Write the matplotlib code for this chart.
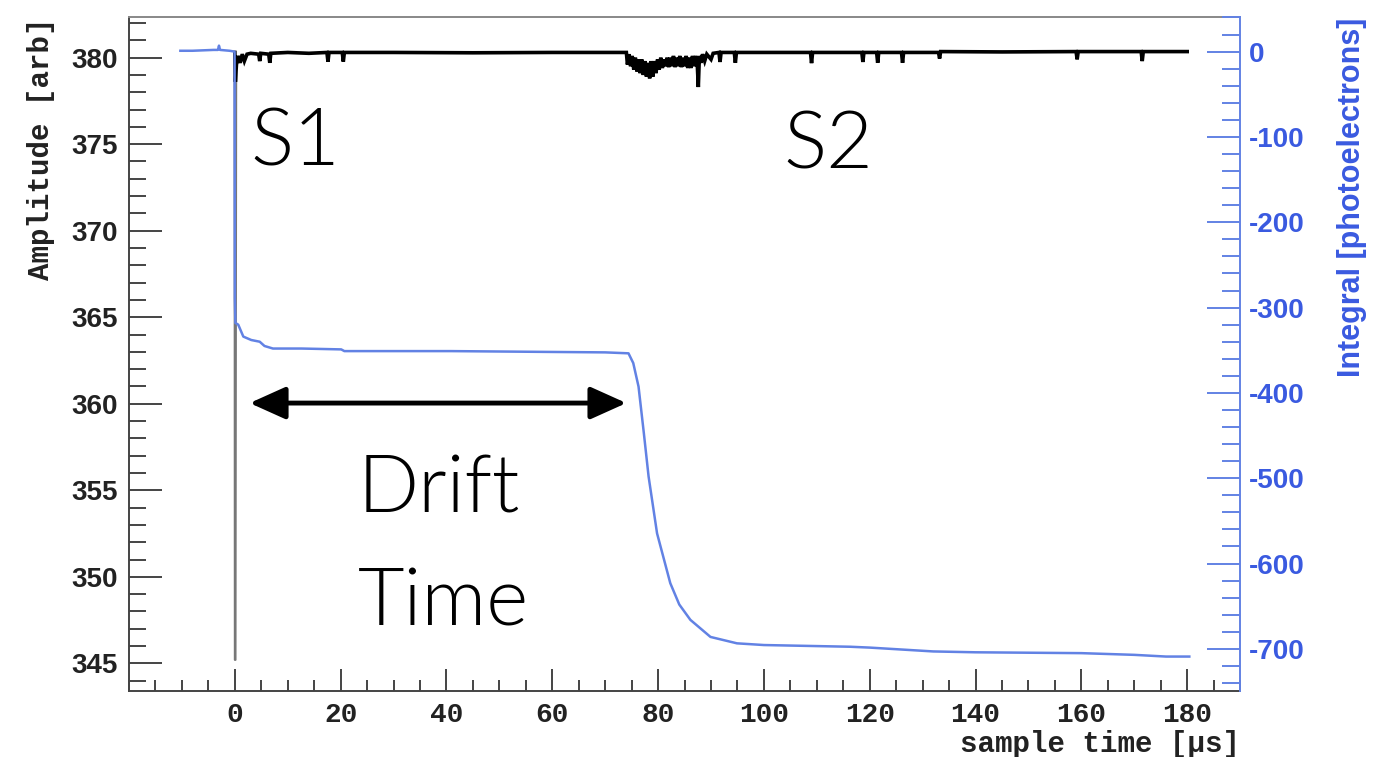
import matplotlib
matplotlib.use("Agg")
import matplotlib.pyplot as plt
from matplotlib.ticker import MultipleLocator, FixedLocator

# --- Daten ---
# Rohsignal (schwarz), linke Achse
amp_t = [0.0, 0.1, 0.3, 0.6, 1.0, 1.4, 1.8, 2.3, 3.0, 4.5, 4.7, 4.9, 6.4, 6.6, 6.8,
         10.0, 14.0, 17.4, 17.6, 17.8, 20.3, 20.5, 20.7, 30.0, 45.0, 60.0, 74.0,
         74.2, 74.5, 74.8, 75.1, 75.4, 75.7, 76.0, 76.3, 76.6, 76.9, 77.2, 77.5,
         77.8, 78.1, 78.4, 78.7, 79.0, 79.3, 79.6, 79.9, 80.2, 80.5, 80.8, 81.1,
         81.4, 81.7, 82.0, 82.3, 82.6, 82.9, 83.2, 83.5, 83.8, 84.1, 84.4, 84.7,
         85.0, 85.3, 85.6, 85.9, 86.2, 86.5, 86.8, 87.1, 87.4, 87.6, 87.8, 88.1,
         88.4, 88.8, 89.2, 90.0, 90.4, 91.5, 91.7, 91.9, 94.4, 94.6, 94.8, 100.0,
         108.8, 109.0, 109.2, 118.5, 118.7, 118.9, 121.3, 121.5, 121.7, 126.0,
         126.2, 126.4, 133.0, 133.2, 133.4, 145.0, 159.0, 159.2, 159.4, 171.3,
         171.5, 171.7, 180.0]
amp_val = [380.3, 378.6, 379.6, 380.1, 379.7, 380.2, 379.8, 380.2, 380.25, 380.2, 379.8, 380.25, 380.2, 379.7, 380.25,
           380.3, 380.25, 380.3, 379.77, 380.3, 380.3, 379.77, 380.3, 380.3, 380.28, 380.3, 380.3,
           379.6, 380.2, 379.5, 380.1, 379.3, 380.0, 379.2, 379.9, 379.1, 379.9, 379.0, 379.8,
           378.9, 379.7, 378.8, 379.8, 378.9, 379.8, 379.1, 379.9, 379.3, 380.0, 379.4, 379.9,
           379.5, 380.0, 379.45, 380.0, 379.5, 380.1, 379.45, 380.0, 379.5, 380.1, 379.45, 380.0,
           379.5, 380.1, 379.4, 380.0, 379.4, 380.1, 379.5, 380.1, 379.6, 378.3, 380.1, 379.7,
           380.2, 379.8, 380.2, 379.9, 380.25, 380.3, 379.75, 380.3, 380.3, 379.7, 380.3, 380.3,
           380.3, 379.68, 380.3, 380.3, 379.75, 380.3, 380.3, 379.7, 380.3, 380.3,
           379.7, 380.3, 380.3, 379.95, 380.35, 380.33, 380.35, 379.9, 380.35, 380.35,
           379.8, 380.35, 380.35]

# S1-Puls (tiefer Ausschlag bei t=0)
s1_t = [-0.05, 0.0, 0.12, 0.25]
s1_val = [380.3, 345.2, 345.2, 379.5]

# Integral (blau), rechte Achse
int_t = [-10.3, -8.0, -6.0, -4.0, -3.2, -3.0, -2.8, -1.0, -0.05, 0.0, 0.1, 0.64, 1.6,
         3.1, 4.7, 5.6, 7.2, 12.6, 20.1, 20.7, 40.8, 60.0, 70.0, 74.4, 75.3, 76.3,
         77.3, 78.2, 79.8, 82.3, 84.0, 86.1, 89.9, 94.9, 100.0, 116.3, 120.0, 132.0,
         140.0, 160.0, 170.0, 176.0, 180.4]
int_val = [1, 1, 1.5, 2, 2, 7, 2, 1, 0, -289, -318, -320, -334,
           -338, -340, -345, -348, -348, -349, -351, -351, -352, -352.5, -353.6, -365, -392.6,
           -447, -498, -564.6, -623, -648, -666, -686, -693.5, -695.5, -697.5, -698.5, -703,
           -704, -705, -707, -709, -709]

x_ticks = [0, 20, 40, 60, 80, 100, 120, 140, 160, 180]

blau = "#3a5ae0"
linie_blau = "#6282e4"
grau = "#444444"

plt.rcParams["font.weight"] = "bold"
plt.rcParams["axes.unicode_minus"] = False

fig = plt.figure(figsize=(13.89, 7.57), dpi=100)
ax = fig.add_axes([0.0929, 0.0876, 0.7999, 0.8893])
ax2 = ax.twinx()

ax.plot(s1_t, s1_val, color="#777777", lw=1.5)
ax.plot(amp_t, amp_val, color="black", lw=2.6, solid_joinstyle="miter")
ax2.plot(int_t, int_val, color=linie_blau, lw=1.8)

ax.set_xlim(-20, 190)
ax.set_ylim(343.42, 382.32)
ax2.set_ylim(-749, 40)

# Achsen im ROOT-Stil
ax.xaxis.set_major_locator(FixedLocator(x_ticks))
ax.xaxis.set_minor_locator(MultipleLocator(5))
ax.yaxis.set_major_locator(MultipleLocator(5))
ax.yaxis.set_minor_locator(MultipleLocator(1))
ax2.yaxis.set_major_locator(MultipleLocator(100))
ax2.yaxis.set_minor_locator(MultipleLocator(20))

ax.tick_params(axis="y", which="major", direction="in", length=24, width=1.4,
               color=grau, labelsize=20, pad=8, labelcolor="#222222",
               labelfontfamily="Liberation Sans")
ax.tick_params(axis="y", which="minor", direction="in", length=12, width=1.4, color=grau)
ax.tick_params(axis="x", which="major", direction="in", length=16, width=1.4,
               color=grau, labelsize=20, pad=8, labelcolor="#222222",
               labelfontfamily="Liberation Mono")
ax.tick_params(axis="x", which="minor", direction="in", length=8, width=1.4, color=grau)
ax2.tick_params(axis="y", which="major", direction="in", length=24, width=1.4,
                color=linie_blau, labelsize=20, pad=6, labelcolor=blau,
                labelfontfamily="Liberation Sans")
ax2.tick_params(axis="y", which="minor", direction="in", length=13, width=1.4, color=linie_blau)

ax.spines["left"].set_color(grau)
ax.spines["bottom"].set_color(grau)
ax.spines["top"].set_color("#888888")
ax.spines["right"].set_visible(False)
for s in ["left", "top", "bottom"]:
    ax2.spines[s].set_visible(False)
ax2.spines["right"].set_color(linie_blau)
ax2.spines["right"].set_linewidth(1.4)
for s in ["left", "top", "bottom"]:
    ax.spines[s].set_linewidth(1.4)

ax.set_xlabel("sample time [\u00b5s]", loc="right", fontsize=21, fontweight="bold",
              fontfamily="Liberation Mono", color="#222222")
ax.set_ylabel("Amplitude [arb]", loc="top", fontsize=21, fontweight="bold",
              fontfamily="Liberation Mono", color="#222222")
ax2.set_ylabel("Integral [photoelectrons]", loc="top", fontsize=22, fontweight="bold",
               fontfamily="Liberation Sans", color=blau)
ax.xaxis.set_label_coords(1.0, -0.058)
ax.yaxis.set_label_coords(-0.067, 1.0)
ax2.yaxis.set_label_coords(1.087, 1.0)

# Beschriftungen im Bild
txt = dict(fontfamily="Lato", fontweight=300, fontsize=58, color="black")
ax.text(3.0, 373.74, "S1", ha="left", va="baseline", **txt)
ax.text(103.6, 373.6, "S2", ha="left", va="baseline", **txt)
ax.text(38.6, 353.74, "Drift", ha="center", va="baseline", **txt)
ax.text(39.4, 347.2, "Time", ha="center", va="baseline", **txt)
ax.annotate("", xy=(74.0, 360.04), xytext=(2.8, 360.04),
            arrowprops=dict(arrowstyle="<|-|>,head_length=1.0,head_width=0.45",
                            lw=3.5, color="black", mutation_scale=22,
                            shrinkA=0, shrinkB=0))

fig.savefig("out.png", dpi=100, facecolor="white")
